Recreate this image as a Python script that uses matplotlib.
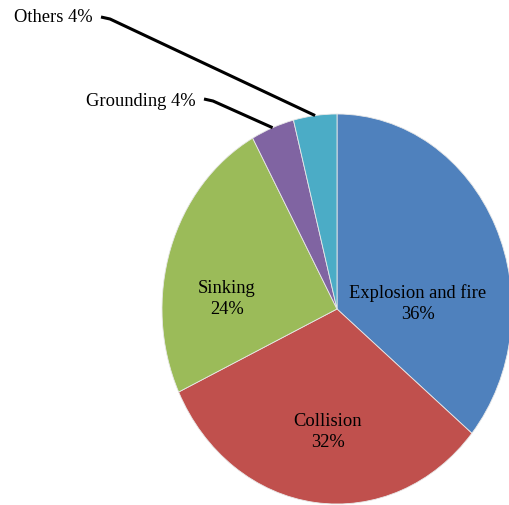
import numpy as np
import matplotlib.pyplot as plt

categories = ['Explosion and fire', 'Collision', 'Sinking', 'Grounding', 'Others']
shares = [36, 32, 24, 4, 4]
colors = ['#4F81BD', '#C0504D', '#9BBB59', '#8064A2', '#4BACC6']

plt.rcParams['font.family'] = ['Liberation Serif', 'DejaVu Serif']

# pie drawn as an ellipse: centre and radii in pixels
cx, cy, rx, ry = 337, 310, 175, 195
W, H = 510, 506


def px(x, y):
    return (x - cx) / rx, (cy - y) / ry


fig = plt.figure(figsize=(5.10, 5.06), dpi=100)
ax = fig.add_axes([0, 0, 1, 1])
wedges, _ = ax.pie(shares, colors=colors, startangle=90, counterclock=False,
                   wedgeprops=dict(linewidth=0.6, edgecolor='#e8e8e8'))
ax.set_aspect('auto')
ax.set_xlim(-cx / rx, (W - cx) / rx)
ax.set_ylim((cy - H) / ry, cy / ry)
ax.axis('off')

# labels inside the big slices
inside = {0: (418, 304), 1: (328, 432), 2: (227, 299)}
for i, (x, y) in inside.items():
    tx, ty = px(x, y)
    ax.text(tx, ty, f'{categories[i]}\n{shares[i]}%', ha='center', va='center',
            fontsize=13.3, linespacing=1.3)

# small slices get leader lines
outside = {4: ((14, 18), (101, 18), (110, 20)),
           3: ((86, 102), (204, 100), (213, 102))}
for i, (txt, p0, p1) in outside.items():
    w = wedges[i]
    mid = np.deg2rad((w.theta1 + w.theta2) / 2)
    ex, ey = np.cos(mid), np.sin(mid)
    tx, ty = px(*txt)
    ax.text(tx, ty, f'{categories[i]} {shares[i]}%', ha='left', va='center',
            fontsize=13.3)
    a = px(*p0)
    b = px(*p1)
    ax.plot([a[0], b[0], ex], [a[1], b[1], ey], color='black', lw=2.2,
            solid_capstyle='butt')

fig.savefig('out.png', dpi=100)
